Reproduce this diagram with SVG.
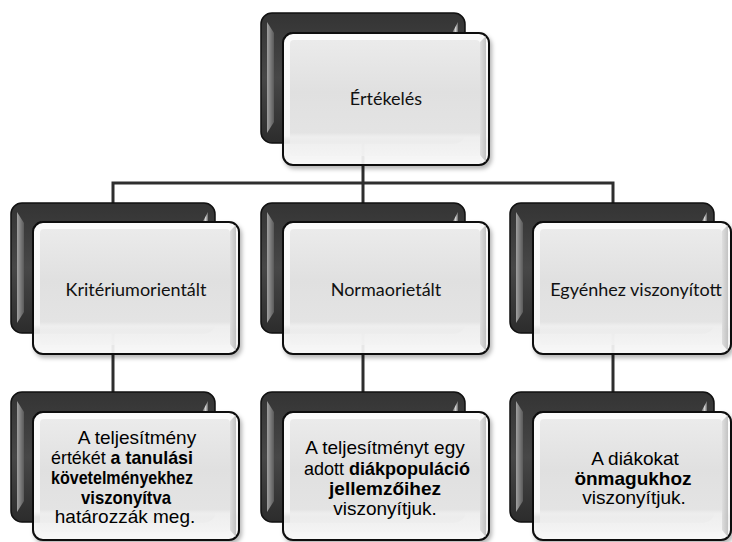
<svg xmlns="http://www.w3.org/2000/svg" width="732" height="542" viewBox="0 0 732 542">
<defs>
<linearGradient id="gBack" x1="0" y1="0" x2="0" y2="1">
<stop offset="0" stop-color="#343434"/>
<stop offset="0.5" stop-color="#474747"/>
<stop offset="1" stop-color="#2c2c2c"/>
</linearGradient>
<linearGradient id="gBevL" x1="0" y1="0" x2="1" y2="0">
<stop offset="0" stop-color="#a0a0a0"/>
<stop offset="1" stop-color="#5a5a5a"/>
</linearGradient>
<linearGradient id="gBevR" x1="0" y1="0" x2="1" y2="0">
<stop offset="0" stop-color="#555"/>
<stop offset="0.6" stop-color="#d5d5d5"/>
<stop offset="1" stop-color="#666"/>
</linearGradient>
<linearGradient id="gFront" x1="0" y1="0" x2="0" y2="1">
<stop offset="0" stop-color="#fbfbfb"/>
<stop offset="0.78" stop-color="#f6f6f6"/>
<stop offset="0.82" stop-color="#f2f2f2" stop-opacity="0.93"/>
<stop offset="1" stop-color="#fafafa" stop-opacity="0.9"/>
</linearGradient>
<linearGradient id="gFace" x1="0" y1="0" x2="0" y2="1">
<stop offset="0" stop-color="#ebebeb"/>
<stop offset="0.45" stop-color="#e0e0e0"/>
<stop offset="0.8" stop-color="#e3e3e3" stop-opacity="0.97"/>
<stop offset="0.84" stop-color="#ededed" stop-opacity="0.75"/>
<stop offset="1" stop-color="#f3f3f3" stop-opacity="0.75"/>
</linearGradient>
<linearGradient id="gSideR" x1="0" y1="0" x2="1" y2="0">
<stop offset="0" stop-color="#d8d8d8"/>
<stop offset="1" stop-color="#b5b5b5"/>
</linearGradient>
<filter id="sh" x="-10%" y="-10%" width="125%" height="130%">
<feDropShadow dx="2" dy="3" stdDeviation="2" flood-color="#000" flood-opacity="0.3"/>
</filter>
</defs>
<style>
.bk{fill:url(#gBack);stroke:#111;stroke-width:1.5}
.bl{fill:url(#gBevL)}
.br{fill:url(#gBevR)}
.fr{fill:url(#gFront);stroke:#0a0a0a;stroke-width:2;filter:url(#sh)}
.fc{fill:url(#gFace)}
.fs{fill:url(#gSideR);opacity:0.8}
.con{fill:none;stroke:#2e2e2e;stroke-width:3}
.lbl{font-family:Lato,"Open Sans","Noto Sans",sans-serif;font-size:18px;fill:#111;text-anchor:middle}
.desc{font-family:"Liberation Sans",Arial,sans-serif;font-size:19px;fill:#000;text-anchor:middle}
.b{font-weight:bold}
</style>
<rect width="732" height="542" fill="#fff"/>
<g id="connectors">
<path class="con" d="M363 143 V183"/>
<path class="con" d="M113 203 V183 H613 V203 M363 183 V203"/>
<path class="con" d="M113 332 V392 M363 332 V392 M613 332 V392"/>
</g>
<g id="node-ertekeles">
<rect class="bk" x="261" y="13" width="204" height="130" rx="11"/>
<path class="bl" d="M267 22 L274 33 L274 122 L267 133 Z"/>
<path class="br" d="M458 22 L452 33 L452 122 L458 133 Z"/>
<rect class="fr" x="283" y="33" width="206" height="132" rx="10"/>
<rect class="fc" x="290" y="40" width="190" height="116" rx="4"/>
<path class="fs" d="M480 42 L486 36 L486 162 L480 155 Z"/>
<text class="lbl" x="386" y="105">Értékelés</text>
</g>
<g id="node-kriterium">
<rect class="bk" x="11" y="203" width="204" height="130" rx="11"/>
<path class="bl" d="M17 212 L24 223 L24 312 L17 323 Z"/>
<path class="br" d="M208 212 L202 223 L202 312 L208 323 Z"/>
<rect class="fr" x="33" y="222" width="206" height="132" rx="10"/>
<rect class="fc" x="40" y="229" width="190" height="116" rx="4"/>
<path class="fs" d="M230 231 L236 225 L236 351 L230 344 Z"/>
<text class="lbl" x="136" y="296">Kritériumorientált</text>
</g>
<g id="node-norma">
<rect class="bk" x="261" y="203" width="204" height="130" rx="11"/>
<path class="bl" d="M267 212 L274 223 L274 312 L267 323 Z"/>
<path class="br" d="M458 212 L452 223 L452 312 L458 323 Z"/>
<rect class="fr" x="283" y="222" width="206" height="132" rx="10"/>
<rect class="fc" x="290" y="229" width="190" height="116" rx="4"/>
<path class="fs" d="M480 231 L486 225 L486 351 L480 344 Z"/>
<text class="lbl" x="386" y="296">Normaorietált</text>
</g>
<g id="node-egyen">
<rect class="bk" x="510" y="203" width="204" height="130" rx="11"/>
<path class="bl" d="M516 212 L523 223 L523 312 L516 323 Z"/>
<path class="br" d="M707 212 L701 223 L701 312 L707 323 Z"/>
<rect class="fr" x="533" y="222" width="198" height="132" rx="10"/>
<rect class="fc" x="540" y="229" width="182" height="116" rx="4"/>
<path class="fs" d="M722 231 L728 225 L728 351 L722 344 Z"/>
<text class="lbl" x="636" y="296">Egyénhez viszonyított</text>
</g>
<g id="node-desc-kriterium">
<rect class="bk" x="11" y="392" width="204" height="130" rx="11"/>
<path class="bl" d="M17 401 L24 412 L24 501 L17 512 Z"/>
<path class="br" d="M208 401 L202 412 L202 501 L208 512 Z"/>
<rect class="fr" x="33" y="412" width="206" height="128" rx="10"/>
<rect class="fc" x="40" y="419" width="190" height="113" rx="4"/>
<path class="fs" d="M230 421 L236 415 L236 537 L230 530 Z"/>
<text class="desc" x="137" y="444">A teljesítmény</text>
<text class="desc" x="122" y="464" textLength="142" lengthAdjust="spacingAndGlyphs">értékét <tspan class="b">a tanulási</tspan></text>
<text class="desc b" x="122" y="484" textLength="142" lengthAdjust="spacingAndGlyphs">követelményekhez</text>
<text class="desc b" x="126" y="504" textLength="90" lengthAdjust="spacingAndGlyphs">viszonyítva</text>
<text class="desc" x="125" y="523">határozzák meg.</text>
</g>
<g id="node-desc-norma">
<rect class="bk" x="261" y="392" width="204" height="130" rx="11"/>
<path class="bl" d="M267 401 L274 412 L274 501 L267 512 Z"/>
<path class="br" d="M458 401 L452 412 L452 501 L458 512 Z"/>
<rect class="fr" x="283" y="412" width="206" height="128" rx="10"/>
<rect class="fc" x="290" y="419" width="190" height="113" rx="4"/>
<path class="fs" d="M480 421 L486 415 L486 537 L480 530 Z"/>
<text class="desc" x="385" y="454">A teljesítményt egy</text>
<text class="desc" x="387" y="475" textLength="166" lengthAdjust="spacingAndGlyphs">adott <tspan class="b">diákpopuláció</tspan></text>
<text class="desc b" x="385" y="495">jellemzőihez</text>
<text class="desc" x="385" y="515">viszonyítjuk.</text>
</g>
<g id="node-desc-egyen">
<rect class="bk" x="510" y="392" width="204" height="130" rx="11"/>
<path class="bl" d="M516 401 L523 412 L523 501 L516 512 Z"/>
<path class="br" d="M707 401 L701 412 L701 501 L707 512 Z"/>
<rect class="fr" x="533" y="412" width="198" height="128" rx="10"/>
<rect class="fc" x="540" y="419" width="182" height="113" rx="4"/>
<path class="fs" d="M722 421 L728 415 L728 537 L722 530 Z"/>
<text class="desc" x="635" y="465">A diákokat</text>
<text class="desc b" x="633" y="485">önmagukhoz</text>
<text class="desc" x="634" y="504">viszonyítjuk.</text>
</g>
</svg>
